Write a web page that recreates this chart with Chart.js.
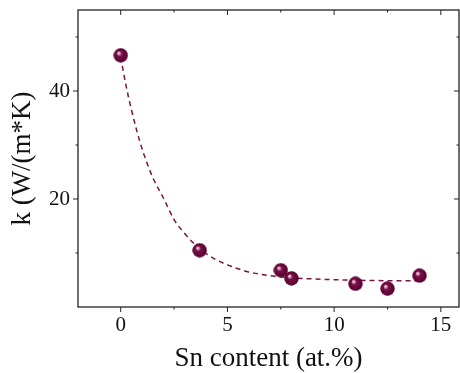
<!DOCTYPE html>
<html><head><meta charset="utf-8">
<script src="https://cdn.jsdelivr.net/npm/chart.js@4/dist/chart.umd.min.js"></script>
<style>html,body{margin:0;padding:0;background:#fff}#wrap{width:460px;height:373px;position:relative}</style>
</head><body><div id="wrap"><canvas id="c"></canvas></div>
<script>
// Measured data
const snContent = [0, 3.7, 7.5, 8.0, 11.0, 12.5, 14.0];
const kValues   = [46.6, 10.5, 6.8, 5.3, 4.3, 3.4, 5.8];
// Dashed fit curve
const fitX = [0, 0.25, 0.5, 0.75, 1, 1.25, 1.5, 2, 2.5, 3, 3.5, 4, 4.5, 5, 6, 7, 8, 9, 10, 11, 12, 13, 14];
const fitY = [46.3, 41.0, 36.6, 32.7, 29.3, 26.5, 24.0, 20.2, 16.2, 13.6, 11.5, 9.9, 8.7, 7.8, 6.5, 5.8, 5.4, 5.2, 5.05, 4.95, 4.9, 4.85, 4.85];
// Axis ticks
const xTickLabels = [0, 5, 10, 15];
const xMinorTicks = [2.5, 7.5, 12.5];
const yTickLabels = [20, 40];
const yMinorTicks = [10, 30, 50];

function sphere(d){
  const c = document.createElement('canvas'); c.width = c.height = d;
  const g = c.getContext('2d'); const r = d/2;
  const grad = g.createRadialGradient(r*0.7, r*0.66, 0, r, r, r);
  grad.addColorStop(0, '#ffffff');
  grad.addColorStop(0.14, '#d9a6c0');
  grad.addColorStop(0.36, '#780f48');
  grad.addColorStop(1, '#55002c');
  g.fillStyle = grad; g.beginPath(); g.arc(r, r, r-0.3, 0, Math.PI*2); g.fill();
  return c;
}
const marker = sphere(15);

const framePlugin = {
  id: 'frame',
  afterDatasetsDraw(chart){
    const {ctx, chartArea: a, scales: {x, y}} = chart;
    ctx.save();
    ctx.strokeStyle = '#222'; ctx.lineWidth = 1.3;
    ctx.strokeRect(a.left, a.top, a.right - a.left, a.bottom - a.top);
    ctx.lineWidth = 1;
    ctx.beginPath();
    const major = 5, minor = 2.5;
    xTickLabels.forEach(v => { const p = x.getPixelForValue(v);
      ctx.moveTo(p, a.bottom); ctx.lineTo(p, a.bottom + major);
      ctx.moveTo(p, a.top); ctx.lineTo(p, a.top + major); });
    xMinorTicks.forEach(v => { const p = x.getPixelForValue(v);
      ctx.moveTo(p, a.bottom); ctx.lineTo(p, a.bottom + minor);
      ctx.moveTo(p, a.top); ctx.lineTo(p, a.top + minor); });
    yTickLabels.forEach(v => { const p = y.getPixelForValue(v);
      ctx.moveTo(a.left, p); ctx.lineTo(a.left - major, p);
      ctx.moveTo(a.right, p); ctx.lineTo(a.right - major, p); });
    yMinorTicks.forEach(v => { const p = y.getPixelForValue(v);
      ctx.moveTo(a.left, p); ctx.lineTo(a.left - minor, p);
      ctx.moveTo(a.right, p); ctx.lineTo(a.right - minor, p); });
    ctx.stroke();
    ctx.restore();
  }
};

function noPad(s){ s.paddingTop = 0; s.paddingBottom = 0; s.paddingLeft = 0; s.paddingRight = 0; }

const serif = 'Liberation Serif, Times New Roman, serif';
new Chart(document.getElementById('c'), {
  type: 'scatter',
  data: {
    datasets: [
      {
        type: 'line',
        data: fitX.map((v, i) => ({x: v, y: fitY[i]})),
        borderColor: '#7a1448', borderWidth: 1.5, borderDash: [5, 4],
        pointRadius: 0, tension: 0.4, cubicInterpolationMode: 'monotone', fill: false, order: 2
      },
      {
        data: snContent.map((v, i) => ({x: v, y: kValues[i]})),
        pointStyle: marker, pointRadius: 7.5, order: 1
      }
    ]
  },
  options: {
    responsive: true, maintainAspectRatio: false, animation: false,
    layout: {autoPadding: false, padding: {top: 10, right: 1, left: 0, bottom: 0}},
    plugins: {legend: {display: false}, tooltip: {enabled: false}},
    scales: {
      x: {
        type: 'linear', min: -2, max: 15.85,
        grid: {display: false, drawTicks: false}, border: {display: false},
        afterBuildTicks: s => { s.ticks = xTickLabels.map(v => ({value: v})); },
        afterFit: s => { s.height = 66; noPad(s); },
        ticks: {font: {family: serif, size: 21}, color: '#111', padding: 6, maxRotation: 0},
        title: {display: true, text: 'Sn content (at.%)', font: {family: serif, size: 27}, color: '#111', padding: {top: 0, bottom: -2}}
      },
      y: {
        type: 'linear', min: 0, max: 55,
        grid: {display: false, drawTicks: false}, border: {display: false},
        afterBuildTicks: s => { s.ticks = yTickLabels.map(v => ({value: v})); },
        afterFit: s => { s.width = 78; noPad(s); },
        ticks: {font: {family: serif, size: 21}, color: '#111', padding: 8},
        title: {display: true, text: 'k (W/(m*K)', font: {family: serif, size: 27}, color: '#111', padding: {top: 7, bottom: 0}}
      }
    }
  },
  plugins: [framePlugin]
});
</script>
</body></html>
